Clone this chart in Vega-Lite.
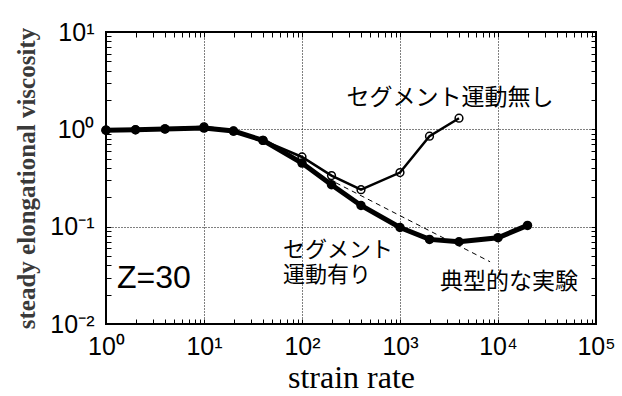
{
  "$schema": "https://vega.github.io/schema/vega-lite/v6.json",
  "autosize": "none",
  "width": 490,
  "height": 292,
  "padding": {"left": 106, "top": 32, "right": 26, "bottom": 72},
  "background": "white",
  "config": {
    "view": {"stroke": "black", "strokeWidth": 2},
    "font": "Liberation Sans"
  },
  "datasets": {
    "thin": [
      {"rate": 1, "visc": 0.98}, {"rate": 2, "visc": 0.99}, {"rate": 4, "visc": 1.01},
      {"rate": 10, "visc": 1.06}, {"rate": 20, "visc": 0.96}, {"rate": 40, "visc": 0.77},
      {"rate": 100, "visc": 0.52}, {"rate": 200, "visc": 0.335}, {"rate": 400, "visc": 0.24},
      {"rate": 1000, "visc": 0.36}, {"rate": 2000, "visc": 0.85}, {"rate": 4000, "visc": 1.3}
    ],
    "thick": [
      {"rate": 1, "visc": 0.98}, {"rate": 2, "visc": 0.99}, {"rate": 4, "visc": 1.01},
      {"rate": 10, "visc": 1.03}, {"rate": 20, "visc": 0.96}, {"rate": 40, "visc": 0.77},
      {"rate": 100, "visc": 0.45}, {"rate": 200, "visc": 0.27}, {"rate": 400, "visc": 0.165},
      {"rate": 1000, "visc": 0.098}, {"rate": 2000, "visc": 0.074}, {"rate": 4000, "visc": 0.07},
      {"rate": 10000, "visc": 0.077}, {"rate": 20000, "visc": 0.103}
    ],
    "dashed": [
      {"rate": 152, "visc": 0.343}, {"rate": 8300, "visc": 0.0436}
    ],
    "labelsCenter": [
      {"rate": 3240, "visc": 2.1, "text": "セグメント運動無し"}
    ],
    "labelsLeft": [
      {"rate": 64, "visc": 0.0575, "text": "セグメント\n運動有り", "size": 22},
      {"rate": 2560, "visc": 0.027, "text": "典型的な実験", "size": 23}
    ],
    "zlabel": [{"rate": 1.295, "visc": 0.0297, "text": "Z=30"}]
  },
  "resolve": {"axis": {"x": "independent", "y": "independent"}},
  "layer": [
    {
      "data": {"name": "dashed"},
      "mark": {"type": "line", "color": "black", "strokeWidth": 1, "strokeDash": [5, 4]},
      "encoding": {
        "x": {
          "field": "rate", "type": "quantitative",
          "scale": {"type": "log", "domain": [1, 100000], "nice": false},
          "axis": {
            "orient": "bottom",
            "title": "strain rate",
            "titleFont": "Liberation Serif",
            "titleFontWeight": "normal",
            "titleFontSize": 32,
            "titleColor": "black",
            "titlePadding": 3,
            "values": [1,2,3,4,5,6,7,8,9,10,20,30,40,50,60,70,80,90,100,200,300,400,500,600,700,800,900,1000,2000,3000,4000,5000,6000,7000,8000,9000,10000,20000,30000,40000,50000,60000,70000,80000,90000,100000],
            "labelExpr": "abs(log(datum.value)/LN10 - round(log(datum.value)/LN10)) < 1e-6 ? '10' + ['⁰','¹','²','³','⁴','⁵'][round(log(datum.value)/LN10)] : ''",
            "labelFontSize": 25,
            "labelColor": "black",
            "labelPadding": 15,
            "labelFlush": false,
            "labelOverlap": false,
            "tickSize": -5,
            "tickColor": "black",
            "tickWidth": 1,
            "domain": false,
            "grid": true,
            "gridColor": "black",
            "gridDash": [1, 2],
            "gridWidth": 1,
            "gridOpacity": {"condition": {"test": "abs(log(datum.value)/LN10 - round(log(datum.value)/LN10)) < 1e-6", "value": 1}, "value": 0}
          }
        },
        "y": {
          "field": "visc", "type": "quantitative",
          "scale": {"type": "log", "domain": [0.01, 10], "nice": false},
          "axis": {
            "orient": "left",
            "title": "steady elongational viscosity",
            "titleFont": "Liberation Serif",
            "titleFontWeight": "bold",
            "titleFontSize": 25,
            "titleColor": "#3a3a3a",
            "titlePadding": 10,
            "values": [0.01,0.02,0.03,0.04,0.05,0.06,0.07,0.08,0.09,0.1,0.2,0.3,0.4,0.5,0.6,0.7,0.8,0.9,1,2,3,4,5,6,7,8,9,10],
            "labelExpr": "abs(log(datum.value)/LN10 - round(log(datum.value)/LN10)) < 1e-6 ? '10' + {'-2':'⁻²','-1':'⁻¹','0':'⁰','1':'¹'}[''+round(log(datum.value)/LN10)] : ''",
            "labelFontSize": 25,
            "labelColor": "black",
            "labelPadding": 17,
            "labelFlush": false,
            "labelOverlap": false,
            "labelBaseline": "middle",
            "labelDy": -4,
            "tickSize": -5,
            "tickColor": "black",
            "tickWidth": 1,
            "domain": false,
            "grid": true,
            "gridColor": "black",
            "gridDash": [1, 2],
            "gridWidth": 1,
            "gridOpacity": {"condition": {"test": "abs(log(datum.value)/LN10 - round(log(datum.value)/LN10)) < 1e-6", "value": 1}, "value": 0}
          }
        }
      }
    },
    {
      "data": {"name": "thick"},
      "mark": {"type": "line", "color": "black", "strokeWidth": 5, "point": {"filled": true, "color": "black", "size": 90}},
      "encoding": {
        "x": {"field": "rate", "type": "quantitative",
          "axis": {"orient": "top", "title": null, "labels": false, "domain": false, "grid": false,
            "values": [1,2,3,4,5,6,7,8,9,10,20,30,40,50,60,70,80,90,100,200,300,400,500,600,700,800,900,1000,2000,3000,4000,5000,6000,7000,8000,9000,10000,20000,30000,40000,50000,60000,70000,80000,90000,100000],
            "tickSize": -5, "tickColor": "black", "tickWidth": 1}},
        "y": {"field": "visc", "type": "quantitative",
          "axis": {"orient": "right", "title": null, "labels": false, "domain": false, "grid": false,
            "values": [0.01,0.02,0.03,0.04,0.05,0.06,0.07,0.08,0.09,0.1,0.2,0.3,0.4,0.5,0.6,0.7,0.8,0.9,1,2,3,4,5,6,7,8,9,10],
            "tickSize": -5, "tickColor": "black", "tickWidth": 1}}
      }
    },
    {
      "data": {"name": "thin"},
      "mark": {"type": "line", "color": "black", "strokeWidth": 2.5, "point": {"filled": false, "stroke": "black", "strokeWidth": 1.5, "size": 60}},
      "encoding": {
        "x": {"field": "rate", "type": "quantitative", "axis": null},
        "y": {"field": "visc", "type": "quantitative", "axis": null}
      }
    },
    {
      "data": {"name": "labelsCenter"},
      "mark": {"type": "text", "font": "Noto Sans CJK JP", "fontSize": 23, "color": "black", "align": "center", "baseline": "middle"},
      "encoding": {
        "x": {"field": "rate", "type": "quantitative", "axis": null},
        "y": {"field": "visc", "type": "quantitative", "axis": null},
        "text": {"field": "text"}
      }
    },
    {
      "data": {"name": "labelsLeft"},
      "mark": {"type": "text", "font": "Noto Sans CJK JP", "color": "black", "align": "left", "baseline": "middle", "lineHeight": 25, "lineBreak": "\n"},
      "encoding": {
        "x": {"field": "rate", "type": "quantitative", "axis": null},
        "y": {"field": "visc", "type": "quantitative", "axis": null},
        "text": {"field": "text"},
        "size": {"field": "size", "type": "quantitative", "scale": null}
      }
    },
    {
      "data": {"name": "zlabel"},
      "mark": {"type": "text", "font": "Liberation Sans", "fontSize": 32, "color": "black", "align": "left", "baseline": "middle"},
      "encoding": {
        "x": {"field": "rate", "type": "quantitative", "axis": null},
        "y": {"field": "visc", "type": "quantitative", "axis": null},
        "text": {"field": "text"}
      }
    }
  ]
}
